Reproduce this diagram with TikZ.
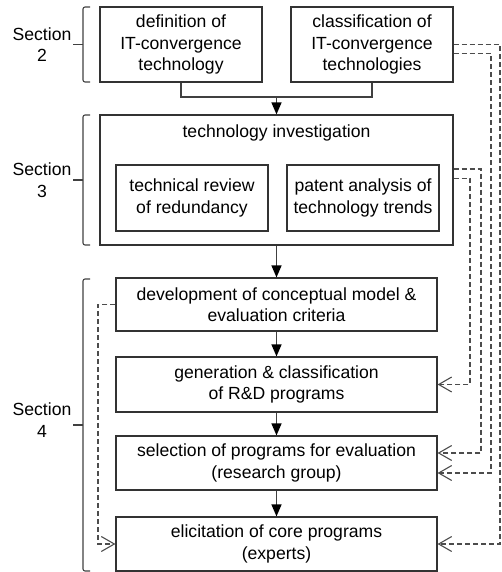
\documentclass[tikz,border=0pt]{standalone}
\usepackage{fontspec}
\setmainfont{Liberation Sans}
\usetikzlibrary{arrows.meta,positioning,calc}

\begin{document}
\begin{tikzpicture}[x=1pt, y=-1pt, font=\fontsize{17.6}{21.5}\selectfont,
  box/.style={draw=black!80, line width=1.2pt, align=center, inner sep=0pt},
  flow/.style={draw=black!75, line width=1.4pt},
  arr/.style={flow, -{Triangle[length=12pt,width=10pt,color=black]}},
  fb/.style={draw=black!70, line width=1.1pt, dash pattern=on 5pt off 3pt, -{Straight Barb[length=13pt,width=15pt]}},
  bracket/.style={draw=black!75, line width=1.1pt, rounded corners=2pt},
  sec/.style={align=center}]
  \useasboundingbox (0,0) rectangle (501,572);

  % section 2
  \node[box, minimum width=162, minimum height=75] (def) at (181,44.5) {definition of\\IT-convergence\\technology};
  \node[box, minimum width=162, minimum height=75] (cls) at (372,44.5) {classification of\\IT-convergence\\technologies};

  % section 3
  \node[box, minimum width=353, minimum height=130] (tech) at (276.5,180) {};
  \node (techtitle) at (276.5,133) {technology investigation};
  \node[box, minimum width=152, minimum height=66] (review) at (192,198) {technical review\\of redundancy};
  \node[box, minimum width=152, minimum height=66] (patent) at (363,198) {patent analysis of\\technology trends};

  % section 4
  \node[box, minimum width=321, minimum height=53] (dev) at (276.5,304.5) {development of conceptual model \&\\evaluation criteria};
  \node[box, minimum width=321, minimum height=55] (gen) at (276.5,384.5) {generation \& classification\\of R\&D programs};
  \node[box, minimum width=321, minimum height=54] (sel) at (276.5,463) {selection of programs for evaluation\\(research group)};
  \node[box, minimum width=321, minimum height=54] (elic) at (276.5,544) {elicitation of core programs\\(experts)};

  % brackets and section labels
  \foreach \n/\t/\b/\l in {2/7/82/44.5, 3/115/245/180, 4/279/571/420} {
    \draw[bracket] (90,\t) -- (83,\t) -- (83,\b) -- (90,\b);
    \draw[bracket] (83,{(\t+\b)/2}) -- (73,{(\t+\b)/2});
    \node[sec] (sec\n) at (42,\l) {Section\\\n};
  }

  % main flow
  \coordinate (join) at (276.5,97);
  \draw[flow] (def.south) |- (join) -| (cls.south);
  \draw[arr] (join) -- (tech.north);
  \draw[arr] (tech.south) -- (dev.north);
  \draw[arr] (dev.south) -- (gen.north);
  \draw[arr] (gen.south) -- (sel.north);
  \draw[arr] (sel.south) -- (elic.north);

  % feedback lines
  \coordinate (r1) at (500,0);
  \coordinate (r2) at (491,0);
  \coordinate (r3) at (481,0);
  \coordinate (r4) at (470,0);
  \coordinate (l1) at (98,0);
  \draw[fb] (cls.east) -| (r1 |- elic.east) -- (elic.east);
  \draw[fb] ($(cls.east)+(0,9)$) -| ($(r2 |- sel.east)+(0,10)$) -- ($(sel.east)+(0,10)$);
  \draw[fb] ($(tech.east)+(0,-11)$) -| ($(r3 |- sel.east)+(0,-10)$) -- ($(sel.east)+(0,-10)$);
  \draw[fb] ($(tech.east)+(0,-1.5)$) -| (r4 |- gen.east) -- (gen.east);
  \draw[fb] (dev.west) -| (l1 |- elic.west) -- (elic.west);
\end{tikzpicture}
\end{document}
